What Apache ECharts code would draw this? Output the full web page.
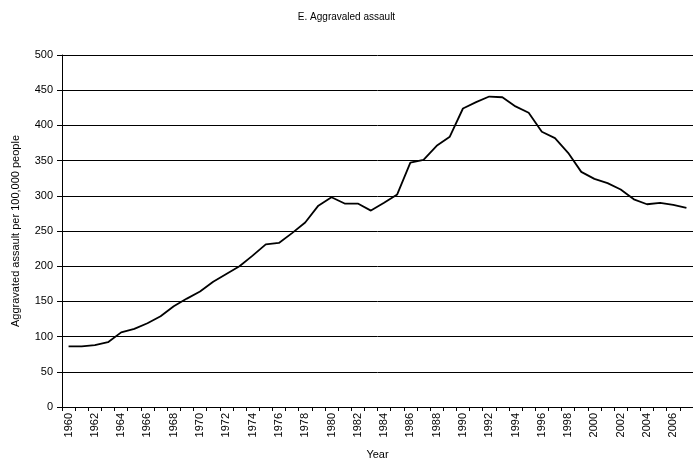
<!DOCTYPE html>
<html>
<head>
<meta charset="utf-8">
<script src="https://cdn.jsdelivr.net/npm/echarts@6/dist/echarts.min.js"></script>
<style>
  html, body { margin: 0; padding: 0; background: #fff; }
  #chart { width: 693px; height: 461px; }
</style>
</head>
<body>
<div id="chart"></div>
<script>
const years = [];
for (let y = 1960; y <= 2007; y++) years.push(String(y));

// aggravated assault per 100,000 people
const assaultRate = [
  86, 86, 88, 92, 106, 111, 119, 129, 143, 154,
  164, 178, 189, 200, 215, 231, 233, 247, 262, 286,
  298, 289, 289, 279, 290, 302, 347, 351, 371, 384,
  424, 433, 441, 440, 427, 418, 391, 382, 361, 334,
  324, 318, 309, 295, 288, 290, 287, 283
];

const chart = echarts.init(document.getElementById("chart"));

const font = "'Liberation Sans', Arial, sans-serif";

chart.setOption({
  animation: false,
  backgroundColor: "#fff",
  title: {
    text: "E. Aggravaled assault",
    left: "center",
    top: 7,
    textStyle: { fontFamily: font, fontSize: 10, fontWeight: "normal", color: "#000" },
  },
  grid: { left: 62, right: 0, top: 55, bottom: 54, outerBoundsMode: "none" },
  xAxis: {
    type: "category",
    data: years,
    boundaryGap: true,
    name: "Year",
    nameLocation: "middle",
    nameGap: 42,
    nameTextStyle: { fontFamily: font, fontSize: 11, color: "#000" },
    axisLine: { lineStyle: { color: "#000", width: 1 } },
    axisTick: { show: true, interval: 0, length: 4, lineStyle: { color: "#000" } },
    axisLabel: {
      interval: 1,
      rotate: 90,
      margin: 6,
      fontFamily: font,
      fontSize: 11,
      color: "#000",
    },
  },
  yAxis: {
    type: "value",
    min: 0,
    max: 500,
    interval: 50,
    name: "Aggravated assault per 100,000 people",
    nameLocation: "middle",
    nameGap: 41,
    nameTextStyle: { fontFamily: font, fontSize: 11, color: "#000" },
    axisLine: { show: true, lineStyle: { color: "#000", width: 1 } },
    axisTick: { show: true, length: 5, lineStyle: { color: "#000" } },
    axisLabel: { margin: 9, fontFamily: font, fontSize: 11, color: "#000" },
    splitLine: { show: true, lineStyle: { color: "#000", width: 1 } },
  },
  series: [
    {
      type: "line",
      data: assaultRate,
      symbol: "none",
      lineStyle: { color: "#000", width: 1.8 },
    },
  ],
});
</script>
</body>
</html>
